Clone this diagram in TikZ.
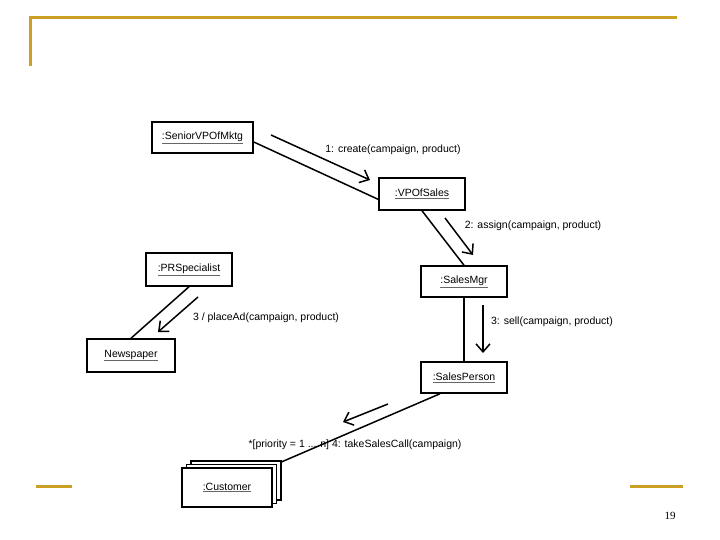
\documentclass[tikz,border=0pt]{standalone}
\usepackage{fontspec}
\setmainfont{Liberation Sans}
\newfontfamily\pagenumfont{Liberation Serif}
\usepackage{tikz}
\usetikzlibrary{arrows.meta,calc,positioning,shadows}
\usepackage{xcolor}
\definecolor{slidegold}{RGB}{204,160,36}
\newcommand{\objname}[1]{{\color{black!60}\underline{\textcolor{black}{#1}}}}

\begin{document}
\begin{tikzpicture}[x=1pt, y=-1pt,
  box/.style={draw, line width=1.5pt, fill=white, inner sep=0pt, align=center,
    font=\fontsize{10.5}{12}\selectfont},
  lbl/.style={font=\fontsize{10.5}{12}\selectfont, inner sep=1pt},
  link/.style={line width=1.5pt},
  msg/.style={line width=1.5pt, -{Straight Barb[length=8pt, width=14pt, line width=1.5pt]}},
  rule/.style={slidegold, line width=3pt}]

\useasboundingbox (0,0) rectangle (720,540);

% cornice della slide
\draw[rule] (30,66) -- (30,18) -- (677,18);
\draw[rule] (36,486) -- (72,486);
\draw[rule] (630,486) -- (683,486);
\node[font=\pagenumfont\fontsize{11}{12}\selectfont] (pnum) at (670,516) {19};

% oggetti
\node[box, minimum width=101pt, minimum height=31pt] (senior) at (202.5,137.5) {\objname{:SeniorVPOfMktg}};
\node[box, minimum width=86pt, minimum height=32pt] (vpsales) at (422,194) {\objname{:VPOfSales}};
\node[box, minimum width=86pt, minimum height=33pt] (prspec) at (189,269.5) {\objname{:PRSpecialist}};
\node[box, minimum width=88pt, minimum height=33pt] (paper) at (131,355.5) {\objname{Newspaper}};
\node[box, minimum width=86pt, minimum height=31pt] (mgr) at (464,281.5) {\objname{:SalesMgr}};
\node[box, minimum width=86pt, minimum height=31pt] (person) at (464,377.5) {\objname{:SalesPerson}};
\node[box, minimum width=90pt, minimum height=39pt,
  double copy shadow={shadow xshift=4.5pt, shadow yshift=3.5pt, draw, line width=1.5pt, fill=white}]
  (cust) at (227,487.5) {\objname{:Customer}};

% collegamenti
\draw[link] (senior.-5) -- (vpsales.187);
\draw[link] (vpsales.south) -- (mgr.north);
\draw[link] (mgr.south) -- (person.north);
\draw[link] (prspec.south) -- (paper.north);
\draw[link] ($(person.south)+(-24,0)$) -- ($(cust.north east)+(8,-5)$);

% messaggi
\coordinate (m1s) at (271,135); \coordinate (m1e) at (370,180);
\coordinate (m2s) at (445,218); \coordinate (m2e) at (473,255);
\coordinate (m3s) at (483,305); \coordinate (m3e) at (483,353);
\coordinate (m4s) at (198,297); \coordinate (m4e) at (158,332);
\coordinate (m5s) at (388,404); \coordinate (m5e) at (343,422);
\draw[msg] (m1s) -- (m1e);
\draw[msg] (m2s) -- (m2e);
\draw[msg] (m3s) -- (m3e);
\draw[msg] (m4s) -- (m4e);
\draw[msg] (m5s) -- (m5e);

\node[lbl] (create) at (393,150) {1: create(campaign, product)};
\node[lbl] (assign) at (533,226) {2: assign(campaign, product)};
\node[lbl] (sell) at (552,322) {3: sell(campaign, product)};
\node[lbl] (place) at (266,318) {3 / placeAd(campaign, product)};
\node[lbl] (call) at (355,445) {*[priority = 1 ... n] 4: takeSalesCall(campaign)};

\end{tikzpicture}
\end{document}
